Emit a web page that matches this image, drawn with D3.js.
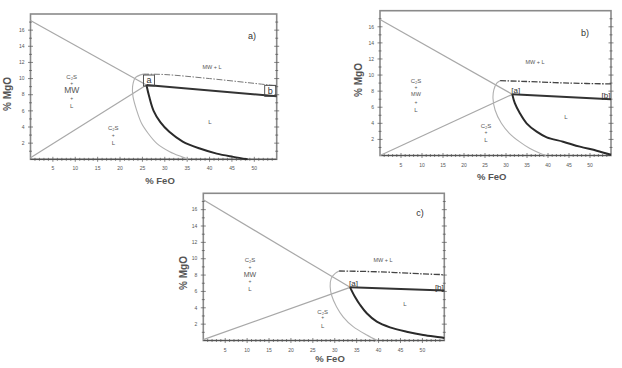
<!DOCTYPE html>
<html>
<head>
<meta charset="utf-8">
<style>body{margin:0;background:#fff}</style>
</head>
<body>
<svg width="622" height="368" font-family="Liberation Sans, Arial, sans-serif"></svg>
<script src="https://cdn.jsdelivr.net/npm/d3@7/dist/d3.min.js"></script>
<script>

// tick labels
var xTicks = [5, 10, 15, 20, 25, 30, 35, 40, 45, 50];
var yTicks = [2, 4, 6, 8, 10, 12, 14, 16];
var panelNames = ["a)", "b)", "c)"];

// point [a] and end [b] of the tie line, per panel
var pointA = [[25.9, 9.2], [31.5, 7.6], [33.5, 6.5]];
var pointB = [[55, 7.8], [55, 7.0], [55, 6.1]];

// start of the grey straight lines on the MgO axis
var lineTop = [17.2, 16.9, 17.2];
var lineBottom = [0.2, 0, 0.1];

// thick black liquidus curves
var liqA = [[25.9, 9.2], [26.5, 7.8], [27.5, 6.0], [29, 4.6], [31, 3.4], [34, 2.2], [38, 1.3], [41.6, 0.7], [45.3, 0.3], [48.5, 0]];
var liqB = [[31.5, 7.6], [32.1, 6.5], [33.3, 5.25], [34.9, 4.0], [37.3, 2.96], [39.7, 2.26], [43.6, 1.72], [47.6, 1.1], [51.6, 0.6], [55, 0.1]];
var liqC = [[33.5, 6.5], [34.6, 5.35], [35.8, 4.34], [37.3, 3.33], [39.6, 2.3], [42.6, 1.61], [46.4, 1.08], [50.2, 0.67], [54, 0.39], [55, 0.3]];

// grey C2S boundaries
var c2sA = [[25.2, 10.55], [23.4, 10.1], [22.8, 9.0], [22.9, 7.76], [23.7, 6.1], [24.8, 4.46], [26.3, 3.2], [28.2, 1.98], [31.1, 0.94], [33.8, 0.3], [35.2, 0]];
var c2sB = [[28.6, 9.3], [27.8, 9.0], [27.1, 8.15], [26.9, 7.1], [27.4, 5.66], [28.9, 4.0], [30.8, 2.76], [33.2, 1.72], [35.6, 0.9], [38.2, 0.25], [39.5, 0]];
var c2sC = [[31, 8.5], [30.1, 8.2], [29.2, 7.6], [28.95, 6.6], [29.3, 5.5], [30.4, 4.13], [31.9, 2.9], [34.2, 1.69], [37.3, 0.67], [39.7, 0]];

// dash-dot MW boundaries
var mwA = [[25.2, 10.55], [30, 10.5], [40, 10.0], [55, 9.1]];
var mwB = [[28.6, 9.3], [35, 9.2], [45, 9.0], [55, 8.9]];
var mwC = [[31, 8.5], [40, 8.4], [50, 8.15], [55, 8.05]];

var liqs = [liqA, liqB, liqC], c2ss = [c2sA, c2sB, c2sC], mws = [mwA, mwB, mwC];

// panel layout (pixels)
var frames = [
  {left: 30.5, top: 14, right: 276.7, bottom: 159.3, xlab: [160, 184], ylab: [11, 94],
   name: [252, 36], mwl: [212, 67], l: [210, 122], stack: [71.7, [77, 83.5, 90.5, 98, 106]], c2l: [113.3, [128, 135, 143]], mwSize: 8.5},
  {left: 380, top: 10.7, right: 611, bottom: 155.5, xlab: [491.7, 180], ylab: [362, 80],
   name: [585, 33], mwl: [535, 62], l: [566, 117], stack: [416, [81, 87, 94, 102.5, 110]], c2l: [486, [125.7, 132, 140]], mwSize: 5.5},
  {left: 203.3, top: 193.3, right: 444.3, bottom: 340.5, xlab: [330, 362], ylab: [187, 273],
   name: [420, 213], mwl: [383, 260], l: [405, 304], stack: [250, [260, 267, 274.3, 281.7, 289.3]], c2l: [322.7, [311.7, 317.3, 325.7]], mwSize: 7}
];

var svg = d3.select("svg");

frames.forEach(function(f, i) {
  var x = d3.scaleLinear().domain([0, 55]).range([f.left, f.right]);
  var y = d3.scaleLinear().domain([0, 18]).range([f.bottom, f.top]);
  var g = svg.append("g");
  var line = d3.line().x(function(d) { return x(d[0]); }).y(function(d) { return y(d[1]); });
  var curve = d3.line().curve(d3.curveCatmullRom).x(function(d) { return x(d[0]); }).y(function(d) { return y(d[1]); });

  // frame
  g.append("rect")
      .attr("x", f.left).attr("y", f.top)
      .attr("width", f.right - f.left).attr("height", f.bottom - f.top)
      .attr("fill", "none").attr("stroke", "#8a8a8a").attr("stroke-width", 1.6);

  // minor + major ticks, bottom
  d3.range(1, 55).forEach(function(v) {
    var big = v % 5 == 0;
    g.append("line").attr("x1", x(v)).attr("x2", x(v))
        .attr("y1", f.bottom - (big ? 2.5 : 1.5)).attr("y2", f.bottom + (big ? 2.5 : 1.5))
        .attr("stroke", "#555").attr("stroke-width", 0.7);
  });
  // left and right ticks
  d3.range(1, 18).forEach(function(v) {
    var big = v % 2 == 0;
    [f.left, f.right].forEach(function(px) {
      g.append("line").attr("x1", px - (big ? 2.5 : 1.5)).attr("x2", px + (big ? 2.5 : 1.5))
          .attr("y1", y(v)).attr("y2", y(v))
          .attr("stroke", "#555").attr("stroke-width", 0.7);
    });
  });
  g.append("line").attr("x1", f.left).attr("x2", f.right).attr("y1", f.bottom).attr("y2", f.bottom)
      .attr("stroke", "#555").attr("stroke-width", 1.2);

  g.selectAll(".xt").data(xTicks).enter().append("text")
      .attr("x", function(d) { return x(d); }).attr("y", f.bottom + 11)
      .attr("text-anchor", "middle").attr("font-size", 5).attr("fill", "#555")
      .text(function(d) { return d; });
  g.selectAll(".yt").data(yTicks).enter().append("text")
      .attr("x", f.left - 6).attr("y", function(d) { return y(d); })
      .attr("dy", "0.35em").attr("text-anchor", "end").attr("font-size", 5).attr("fill", "#555")
      .text(function(d) { return d; });

  g.append("text").attr("x", f.xlab[0]).attr("y", f.xlab[1])
      .attr("text-anchor", "middle").attr("font-size", 9.5).attr("font-weight", "bold").attr("fill", "#555")
      .text("% FeO");
  g.append("text").attr("transform", "translate(" + f.ylab[0] + "," + f.ylab[1] + ") rotate(-90)")
      .attr("text-anchor", "middle").attr("font-size", 10).attr("font-weight", "bold").attr("fill", "#555")
      .text("% MgO");

  // grey straight lines
  g.append("path").datum([[0, lineTop[i]], pointA[i]]).attr("d", line)
      .attr("fill", "none").attr("stroke", "#a8a8a8").attr("stroke-width", 1.2);
  g.append("path").datum([[0, lineBottom[i]], pointA[i]]).attr("d", line)
      .attr("fill", "none").attr("stroke", "#a8a8a8").attr("stroke-width", 1.2);

  // grey C2S curve
  g.append("path").datum(c2ss[i]).attr("d", curve)
      .attr("fill", "none").attr("stroke", "#b0b0b0").attr("stroke-width", 1.1);
  // dash-dot MW line
  g.append("path").datum(mws[i]).attr("d", curve)
      .attr("fill", "none").attr("stroke", i == 0 ? "#777" : "#444").attr("stroke-width", i == 0 ? 1 : 1.3)
      .attr("stroke-dasharray", "6,1.5,1.5,1.5");

  // tie line and liquidus
  g.append("path").datum([pointA[i], pointB[i]]).attr("d", line)
      .attr("fill", "none").attr("stroke", "#333").attr("stroke-width", 2);
  g.append("path").datum(liqs[i]).attr("d", curve)
      .attr("fill", "none").attr("stroke", "#2a2a2a").attr("stroke-width", 2);

  // [a] and [b] markers
  var ax = x(pointA[i][0]), ay = y(pointA[i][1]);
  var bx = x(pointB[i][0]), by = y(pointB[i][1]);
  if (i == 0) {
    g.append("rect").attr("x", ax - 3).attr("y", ay - 10).attr("width", 11).attr("height", 11)
        .attr("fill", "none").attr("stroke", "#444").attr("stroke-width", 0.9);
    g.append("text").attr("x", ax + 2.5).attr("y", ay - 2).attr("text-anchor", "middle")
        .attr("font-size", 9).attr("fill", "#333").text("a");
    g.append("rect").attr("x", bx - 12).attr("y", by - 11).attr("width", 11).attr("height", 11)
        .attr("fill", "none").attr("stroke", "#444").attr("stroke-width", 0.9);
    g.append("text").attr("x", bx - 6.5).attr("y", by - 2.5).attr("text-anchor", "middle")
        .attr("font-size", 9).attr("fill", "#333").text("b");
  } else {
    g.append("text").attr("x", ax - 1).attr("y", ay - 1).attr("text-anchor", "start")
        .attr("font-size", 8).attr("fill", "#333").text("[a]");
    g.append("text").attr("x", bx - 0.5).attr("y", by - 1).attr("text-anchor", "end")
        .attr("font-size", 8).attr("fill", "#333").text("[b]");
  }

  // region labels
  g.append("text").attr("x", f.name[0]).attr("y", f.name[1]).attr("dy", "0.35em")
      .attr("text-anchor", "middle").attr("font-size", 9).attr("fill", "#333").text(panelNames[i]);
  g.append("text").attr("x", f.mwl[0]).attr("y", f.mwl[1]).attr("dy", "0.35em")
      .attr("text-anchor", "middle").attr("font-size", 5.5).attr("fill", "#555").text("MW + L");
  g.append("text").attr("x", f.l[0]).attr("y", f.l[1]).attr("dy", "0.35em")
      .attr("text-anchor", "middle").attr("font-size", 6).attr("fill", "#555").text("L");
  var stackText = ["C\u2082S", "+", "MW", "+", "L"];
  stackText.forEach(function(t, k) {
    g.append("text").attr("x", f.stack[0]).attr("y", f.stack[1][k]).attr("dy", "0.35em")
        .attr("text-anchor", "middle").attr("font-size", t == "MW" ? f.mwSize : (t == "+" ? 5 : 6))
        .attr("fill", "#555").text(t);
  });
  ["C\u2082S", "+", "L"].forEach(function(t, k) {
    g.append("text").attr("x", f.c2l[0]).attr("y", f.c2l[1][k]).attr("dy", "0.35em")
        .attr("text-anchor", "middle").attr("font-size", t == "+" ? 5 : 6)
        .attr("fill", "#555").text(t);
  });
});

</script>
</body>
</html>
